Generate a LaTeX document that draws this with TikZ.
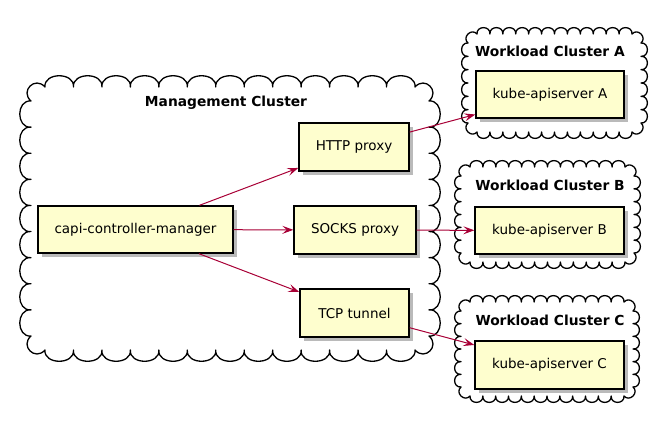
\documentclass[tikz,border=0pt]{standalone}
\usepackage{fontspec}
\setmainfont{DejaVu Sans}
\usetikzlibrary{arrows.meta,shadows}
\definecolor{boxfill}{HTML}{FEFECE}
\definecolor{arrowred}{HTML}{A80036}

% #1 xl, #2 yt, #3 xr, #4 yb, #5 ntop, #6 nside, #7 bulge, #8 corner cut
\newcommand\cloudshape[8]{%
 \pgfmathsetmacro\cw{(#3-#1-2*#8)/#5}%
 \pgfmathsetmacro\ch{(#4-#2-2*#8)/#6}%
 \pgfmathsetmacro\dd{0.7071*#7}%
 \pgfmathsetmacro\cc{-0.05*#8}%
 \draw[cloudline] (#1+#8,#2)
  foreach \i in {1,...,#5}{ .. controls +(-0.05*\cw,-#7) and +(0.05*\cw,-#7) .. (#1+#8+\i*\cw,#2) }
  .. controls +(\cc+\dd,\cc-\dd) and +(-\cc+\dd,-\cc-\dd) .. (#3,#2+#8)
  foreach \i in {1,...,#6}{ .. controls +(#7,-0.05*\ch) and +(#7,0.05*\ch) .. (#3,#2+#8+\i*\ch) }
  .. controls +(-\cc+\dd,\cc+\dd) and +(\cc+\dd,-\cc+\dd) .. (#3-#8,#4)
  foreach \i in {1,...,#5}{ .. controls +(0.05*\cw,#7) and +(-0.05*\cw,#7) .. (#3-#8-\i*\cw,#4) }
  .. controls +(-\cc-\dd,-\cc+\dd) and +(\cc-\dd,\cc+\dd) .. (#1,#4-#8)
  foreach \i in {1,...,#6}{ .. controls +(-#7,0.05*\ch) and +(-#7,-0.05*\ch) .. (#1,#4-#8-\i*\ch) }
  .. controls +(\cc-\dd,-\cc-\dd) and +(-\cc-\dd,\cc-\dd) .. (#1+#8,#2) -- cycle;%
}

\begin{document}
\begin{tikzpicture}[x=1pt,y=-1pt,
  cloudline/.style={draw=black,line width=1.3pt,line join=round},
  compbox/.style={draw=black,line width=1.4pt,fill=boxfill,inner sep=0pt,
    font=\fontsize{13.5}{16}\selectfont,
    drop shadow={shadow xshift=3.5pt,shadow yshift=-3.5pt,fill=black!45,opacity=0.6}},
  ctitle/.style={inner sep=0pt,font=\fontsize{13.8}{16}\selectfont\bfseries},
  link/.style={draw=arrowred,line width=1pt,-{Stealth[length=11pt,width=8pt,inset=4.5pt]}}]
\useasboundingbox (0,0) rectangle (658,421);

% clouds
\cloudshape{31}{87}{429}{350}{13}{9}{15}{14}
\cloudshape{468}{34}{641}{132}{12}{6}{8.5}{9}
\cloudshape{461}{167}{634}{262}{12}{6}{8.5}{9}
\cloudshape{461}{302}{633}{396}{12}{6}{8.5}{9}

% titles
\node[ctitle] (tm) at (226,103) {Management Cluster};
\node[ctitle] (ta) at (550,51.5) {Workload Cluster A};
\node[ctitle] (tb) at (550,185) {Workload Cluster B};
\node[ctitle] (tc) at (550,320.5) {Workload Cluster C};

% boxes
\node[compbox,minimum width=195pt,minimum height=47pt] (capi) at (135.5,229.5) {capi-controller-manager};
\node[compbox,minimum width=110pt,minimum height=48pt] (http) at (354,147) {HTTP proxy};
\node[compbox,minimum width=122pt,minimum height=48pt] (socks) at (355,230) {SOCKS proxy};
\node[compbox,minimum width=109pt,minimum height=48pt] (tcp) at (354.5,313) {TCP tunnel};
\node[compbox,minimum width=148pt,minimum height=47pt] (ka) at (550,94.5) {kube-apiserver A};
\node[compbox,minimum width=149pt,minimum height=47pt] (kb) at (549.5,230.5) {kube-apiserver B};
\node[compbox,minimum width=149pt,minimum height=48pt] (kc) at (549.5,365) {kube-apiserver C};

% connectors
\draw[link] (capi) -- (http);
\draw[link] (capi) -- (socks);
\draw[link] (capi) -- (tcp);
\draw[link] (http) -- (ka);
\draw[link] (socks) -- (kb);
\draw[link] (tcp) -- (kc);
\end{tikzpicture}
\end{document}
